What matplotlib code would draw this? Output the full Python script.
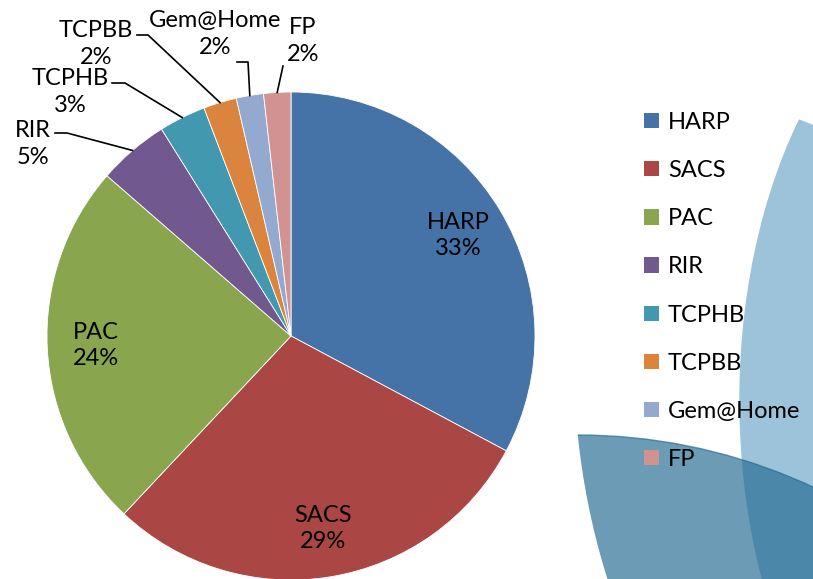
import matplotlib
matplotlib.use('Agg')
import matplotlib.pyplot as plt
from matplotlib.patches import Circle, Ellipse, Patch
import numpy as np

# ------------------- Data -------------------
names = ['HARP', 'SACS', 'PAC', 'RIR', 'TCPHB', 'TCPBB', 'Gem@Home', 'FP']
shares = [32.8, 29.2, 24.4, 4.7, 3.1, 2.2, 1.8, 1.8]
colors = ['#4572A7', '#AA4643', '#89A54E', '#71588F',
          '#4198AF', '#DB843D', '#93A9CF', '#D19392']

# outside labels: text centre and leader elbow, in image pixels (y down)
outside = {
    'RIR':      ((33, 144), (67, 133), (55, 133)),
    'TCPHB':    ((70, 92), (125, 83), (112, 83)),
    'TCPBB':    ((96, 44), (148, 35), (137, 35)),
    'Gem@Home': ((215, 34), (248, 62), (237, 62)),
    'FP':       ((303, 41), (283, 66), (283, 66)),
}

W, H = 813, 579
plt.rcParams['font.family'] = ['Lato', 'DejaVu Sans']
FS = 17

fig = plt.figure(figsize=(W / 100, H / 100), dpi=100)
ax = fig.add_axes([0, 0, 1, 1])

def iy(y):
    return H - y

# ------------------- Background shapes -------------------
light = Ellipse((1000, iy(400)), 520, 880, color='#9DC3DA', zorder=0)
ax.add_patch(light)
light.set_clip_path(Circle((500, iy(900)), 836, transform=ax.transData))
dark = Circle((578, iy(992)), 557, color='#226A91', alpha=0.67, zorder=1)
ax.add_patch(dark)
dark.set_clip_path(Circle((1302, iy(361)), 728, transform=ax.transData))

# ------------------- Pie -------------------
cx, cy, R = 291, iy(336), 244
wedges, _ = ax.pie(shares, colors=colors, startangle=90, counterclock=False,
                   center=(cx, cy), radius=R, frame=True,
                   wedgeprops=dict(edgecolor='white', linewidth=0.6))
ax.set_xlim(0, W)
ax.set_ylim(0, H)
ax.set_aspect('equal')
ax.axis('off')

for w, name, s in zip(wedges, names, shares):
    mid = np.deg2rad((w.theta1 + w.theta2) / 2)
    txt = f'{name}\n{round(s)}%'
    if name in outside:
        (tx, ty), (ex, ey), (hx, hy) = outside[name]
        px, py = cx + R * np.cos(mid), cy + R * np.sin(mid)
        ax.plot([px, ex, hx], [py, iy(ey), iy(hy)], color='black', lw=1.2, zorder=3)
        ax.text(tx, iy(ty), txt, ha='center', va='center', fontsize=FS,
                linespacing=1.3, zorder=4)
    else:
        r = 0.8 * R
        ax.text(cx + r * np.cos(mid), cy + r * np.sin(mid), txt, ha='center',
                va='center', fontsize=FS, linespacing=1.3, zorder=4)

# ------------------- Legend -------------------
handles = [Patch(facecolor=c, edgecolor='none') for c in colors]
leg = ax.legend(handles, names, loc='center left', bbox_to_anchor=(644 / W, 1 - 291 / H),
                frameon=False, fontsize=FS, handlelength=0.62, handleheight=0.62,
                handletextpad=0.4, labelspacing=1.15, borderaxespad=0,
                borderpad=0)
leg.set_zorder(5)

fig.savefig('out.png', dpi=100)
